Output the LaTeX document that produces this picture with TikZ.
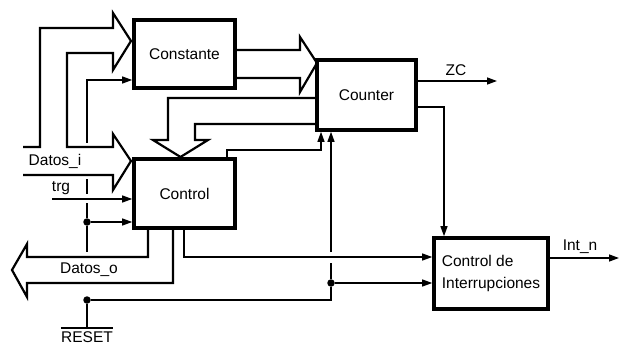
\documentclass[tikz,border=0pt]{standalone}
\usepackage{fontspec}
\setmainfont{Liberation Sans}
\usetikzlibrary{arrows.meta,calc}
\begin{document}
\begin{tikzpicture}[x=1pt,y=-1pt,
  blk/.style={draw,fill=white,line width=3.6pt,inner sep=2pt,font=\fontsize{15.5}{22}\selectfont},
  sig/.style={line width=1.3pt},
  arr/.style={sig,-{Triangle[length=10pt,width=7pt]}},
  bus/.style={line width=2.2pt,line join=miter},
  lbl/.style={font=\fontsize{15.5}{18}\selectfont,inner sep=0pt},
  dot/.style={circle,fill,inner sep=0pt,minimum size=7.5pt}
]
\useasboundingbox (0,0) rectangle (620,347);
% buses
\draw[bus] (23,147) -- (40,147) -- (40,28) -- (113,28) -- (113,13) -- (131,41) -- (113,70) -- (113,53) -- (67,53) -- (67,147) -- (113,147) -- (113,134) -- (131,161) -- (113,190) -- (113,175) -- (23,175);
\draw[bus] (237,50) -- (300,50) -- (300,37) -- (317,63) -- (300,92) -- (300,78) -- (237,78);
\draw[bus] (316,98) -- (168,98) -- (168,140) -- (153,140) -- (180.5,157) -- (208,140) -- (195,140) -- (195,124) -- (316,124);
\draw[bus] (148,230) -- (148,257) -- (27,257) -- (27,244) -- (12,270) -- (27,297) -- (27,283) -- (173,283) -- (173,230);
% blocks
\node[blk,minimum width=101pt,minimum height=68pt] (cst) at (184.5,54) {Constante};
\node[blk,minimum width=99pt,minimum height=70pt] (cnt) at (366.5,95) {Counter};
\node[blk,minimum width=101pt,minimum height=69pt] (ctl) at (184.5,193.5) {Control};
\node[blk,minimum width=114pt,minimum height=71pt,align=left] (irq) at (491,273.5) {Control de\\Interrupciones};
% labels
\node[lbl] at (55,161) {Datos\_i};
\node[lbl] at (89,270) {Datos\_o};
\coordinate (trgin) at (52,199);
\draw[arr] (trgin) -- (trgin -| ctl.west);
\node[lbl] at (61,188) {trg};
% control top -> counter
\coordinate (ca) at (227,150); \coordinate (cb) at (321,150);
\draw[arr] (ca |- ctl.north) -- (ca) -- (cb) -- (cb |- cnt.south);
% control bottom -> irq
\coordinate (cc) at (184,257);
\draw[arr] (cc |- ctl.south) -- (cc) -- (cc -| irq.west);
% counter -> irq
\coordinate (cd) at (444,107);
\draw[arr] (cd -| cnt.east) -- (cd) -- (cd |- irq.north);
% ZC
\coordinate (zc) at (497,81);
\draw[arr] (zc -| cnt.east) -- (zc);
\node[lbl] at (456,70) {ZC};
% Int_n
\coordinate (intn) at (619,258);
\draw[arr] (intn -| irq.east) -- (intn);
\node[lbl] at (580,247) {Int\_n};
% reset
\node[lbl] (rst) at (87,337.5) {RESET};
\coordinate (rb) at (87,328);
\draw[sig] (rb -| rst.west) -- (rb -| rst.east);
\node[dot] (d1) at (87,300) {};
\node[dot] (d2) at (87,222) {};
\node[dot] (d3) at (331,283) {};
\draw[sig] (rb) -- (d1);
\coordinate (g1) at (87,252);
\draw[sig] (d2) -- (g1);
\draw[arr] (d2) -- (d2 -| ctl.west);
\coordinate (g2) at (87,203); \coordinate (g3) at (87,194); \coordinate (g4) at (87,179); \coordinate (g5) at (87,143); \coordinate (rc) at (87,80);
\draw[sig] (d2) -- (g2);
\draw[sig] (g3) -- (g4);
\draw[arr] (g5) -- (rc) -- (rc -| cst.west);
\coordinate (re) at (331,300);
\draw[sig] (d1) -- (re) -- (d3);
\draw[arr] (d3) -- (d3 -| irq.west);
\coordinate (g6) at (331,263); \coordinate (g7) at (331,252);
\draw[sig] (d3) -- (g6);
\draw[arr] (g7) -- (g7 |- cnt.south);
\end{tikzpicture}
\end{document}
